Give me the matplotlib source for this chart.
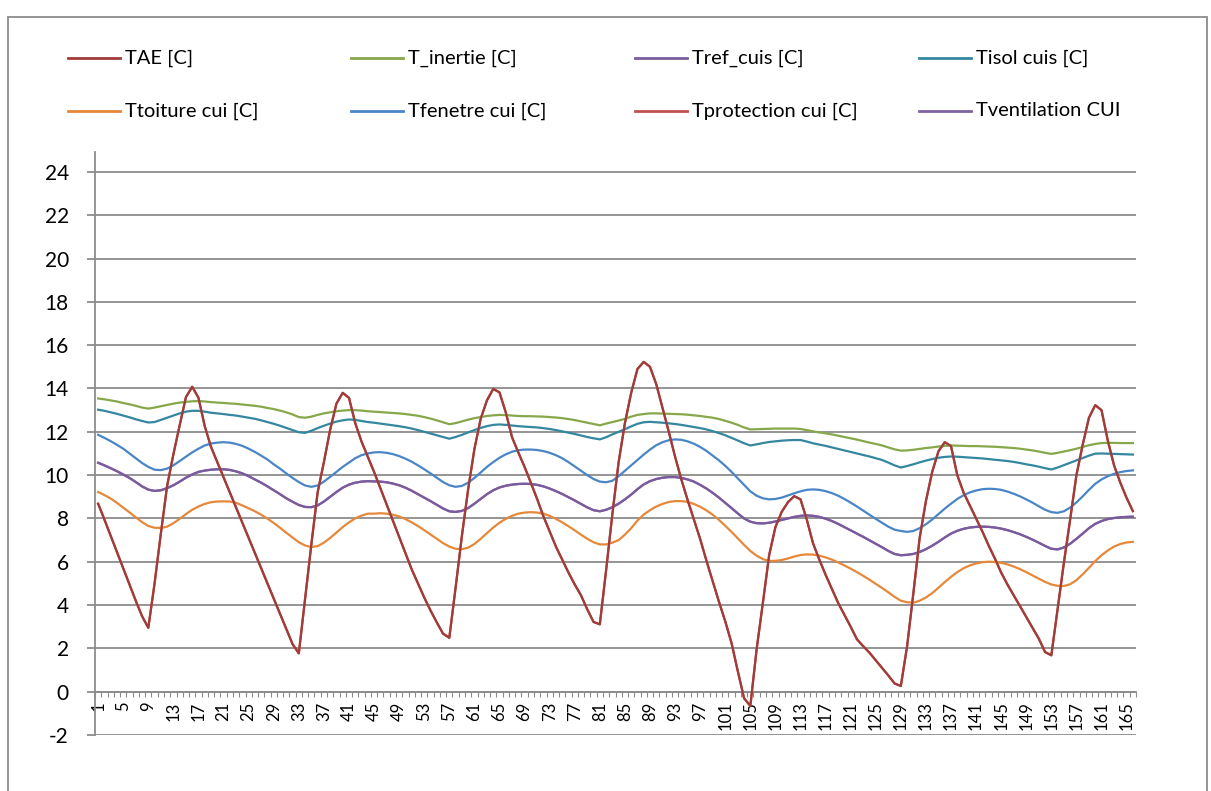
import matplotlib
matplotlib.use("Agg")
import matplotlib.pyplot as plt
from matplotlib.lines import Line2D
from matplotlib.patches import Rectangle
import numpy as np

# hourly temperatures, 166 points
hours = list(range(1, 167))

tae = [
    8.68, 7.95, 7.2, 6.45, 5.7, 4.95, 4.2, 3.49, 2.95, 5.0,
    7.3, 9.5, 10.96, 12.3, 13.6, 14.08, 13.57, 12.26, 11.3, 10.6,
    9.9, 9.2, 8.5, 7.8, 7.1, 6.4, 5.7, 5.0, 4.3, 3.6,
    2.9, 2.2, 1.77, 4.3, 6.8, 9.2, 10.6, 12.1, 13.3, 13.8,
    13.57, 12.4, 11.55, 10.85, 10.15, 9.4, 8.65, 7.9, 7.15, 6.4,
    5.65, 5.0, 4.35, 3.75, 3.2, 2.68, 2.49, 4.8, 7.18, 9.34,
    11.2, 12.6, 13.45, 13.98, 13.82, 12.9, 11.75, 11.05, 10.38, 9.65,
    8.9, 8.1, 7.4, 6.7, 6.1, 5.5, 4.95, 4.45, 3.8, 3.22,
    3.11, 5.6, 8.2, 10.6, 12.4, 13.8, 14.9, 15.23, 15.0, 14.2,
    13.1, 12.0, 10.85, 9.8, 8.85, 7.95, 7.05, 6.05, 5.1, 4.15,
    3.25, 2.25, 0.95, -0.3, -0.66, 1.95, 4.1, 6.3, 7.6, 8.3,
    8.75, 9.03, 8.88, 7.95, 6.85, 6.1, 5.4, 4.75, 4.1, 3.55,
    3.0, 2.42, 2.1, 1.8, 1.45, 1.1, 0.75, 0.38, 0.26, 2.1,
    4.55, 7.1, 8.8, 10.15, 11.1, 11.52, 11.34, 10.0, 9.2, 8.6,
    8.0, 7.4, 6.75, 6.15, 5.5, 4.95, 4.45, 3.95, 3.45, 2.95,
    2.45, 1.83, 1.68, 3.8, 5.95, 7.95, 10.0, 11.4, 12.65, 13.23,
    13.0, 11.6, 10.45, 9.65, 8.95, 8.34]

t_inertie = [
    13.54, 13.5, 13.45, 13.4, 13.33, 13.27, 13.2, 13.12, 13.07, 13.12,
    13.18, 13.24, 13.3, 13.35, 13.38, 13.41, 13.42, 13.4, 13.37, 13.35,
    13.33, 13.31, 13.29, 13.26, 13.23, 13.2, 13.16, 13.1, 13.05, 12.98,
    12.9, 12.8, 12.68, 12.65, 12.7, 12.78, 12.85, 12.9, 12.95, 12.98,
    13.0, 13.0, 12.98, 12.95, 12.93, 12.91, 12.89, 12.87, 12.85, 12.82,
    12.78, 12.74, 12.68, 12.61, 12.53, 12.44, 12.35, 12.4, 12.48, 12.56,
    12.63, 12.68, 12.73, 12.76, 12.78, 12.77, 12.75, 12.73, 12.72, 12.72,
    12.71, 12.7, 12.68, 12.66, 12.63, 12.59, 12.54, 12.48, 12.42, 12.36,
    12.3, 12.38, 12.45, 12.52, 12.6, 12.7, 12.78, 12.82, 12.85, 12.85,
    12.84, 12.83, 12.82, 12.81, 12.79, 12.76, 12.73, 12.69, 12.65, 12.59,
    12.51, 12.42, 12.32, 12.2, 12.11, 12.12, 12.13, 12.14, 12.15, 12.15,
    12.15, 12.15, 12.13, 12.08, 12.02, 11.97, 11.93, 11.88, 11.82, 11.76,
    11.7, 11.64, 11.57, 11.5, 11.44, 11.37, 11.28, 11.19, 11.13, 11.14,
    11.17, 11.21, 11.25, 11.28, 11.32, 11.35, 11.37, 11.36, 11.35, 11.34,
    11.34, 11.33, 11.32, 11.31, 11.29, 11.27, 11.25, 11.22, 11.18, 11.14,
    11.09, 11.03, 10.98, 11.03, 11.09, 11.15, 11.22, 11.3, 11.38, 11.44,
    11.48, 11.49, 11.49, 11.48, 11.48, 11.48]

tref_cuis = [
    10.57, 10.45, 10.32, 10.18, 10.03, 9.87, 9.68, 9.48, 9.33, 9.27,
    9.3, 9.4, 9.53, 9.7, 9.88, 10.03, 10.15, 10.21, 10.25, 10.27,
    10.27, 10.24, 10.17, 10.08, 9.95, 9.8, 9.65, 9.48, 9.3, 9.12,
    8.93, 8.77, 8.62, 8.53, 8.52, 8.6, 8.78, 9.0, 9.22, 9.42,
    9.56, 9.65, 9.7, 9.72, 9.71, 9.7, 9.67, 9.61, 9.53, 9.42,
    9.28, 9.12, 8.96, 8.8, 8.63, 8.46, 8.33, 8.3, 8.35, 8.48,
    8.68, 8.9, 9.12, 9.3, 9.43, 9.51, 9.56, 9.59, 9.6, 9.59,
    9.55, 9.48, 9.38, 9.26, 9.13, 8.98, 8.83, 8.67, 8.51, 8.38,
    8.33, 8.4, 8.52, 8.68, 8.88, 9.1, 9.35, 9.57, 9.72, 9.82,
    9.88, 9.91, 9.91, 9.87, 9.8, 9.7, 9.55, 9.38, 9.18, 8.96,
    8.72, 8.48, 8.23, 8.0, 7.85, 7.78, 7.77, 7.8, 7.86, 7.93,
    8.0, 8.07, 8.12, 8.14, 8.12, 8.07, 7.99, 7.88, 7.75, 7.6,
    7.45, 7.3, 7.15, 6.99, 6.83, 6.67, 6.5, 6.36, 6.3, 6.32,
    6.36, 6.45, 6.58, 6.74, 6.92, 7.12, 7.3, 7.43, 7.52, 7.58,
    7.61, 7.62, 7.61, 7.58, 7.53, 7.46, 7.37, 7.27, 7.15, 7.02,
    6.88, 6.73, 6.6, 6.57, 6.66, 6.83, 7.06, 7.3, 7.55, 7.75,
    7.88, 7.97, 8.02, 8.05, 8.07, 8.08]

tisol = [
    13.02, 12.97, 12.9, 12.83, 12.75, 12.67, 12.58, 12.5, 12.43, 12.45,
    12.55, 12.65, 12.75, 12.85, 12.93, 12.97, 12.97, 12.93, 12.88, 12.85,
    12.82, 12.78, 12.75, 12.7, 12.65, 12.6, 12.53, 12.45, 12.37, 12.28,
    12.18, 12.08, 11.98, 11.95, 12.05, 12.17, 12.28, 12.38, 12.47, 12.53,
    12.57, 12.55, 12.5, 12.45, 12.42, 12.38, 12.34, 12.3, 12.26, 12.21,
    12.15, 12.08, 12.0, 11.92, 11.84, 11.76, 11.68, 11.76, 11.86, 11.97,
    12.08, 12.18, 12.26, 12.32, 12.34, 12.32, 12.29, 12.26, 12.24, 12.22,
    12.2, 12.17, 12.13, 12.08, 12.02, 11.96, 11.9, 11.83, 11.76, 11.7,
    11.65, 11.75, 11.88, 12.0, 12.12, 12.25, 12.37, 12.44, 12.46, 12.44,
    12.42, 12.39, 12.36, 12.32, 12.27, 12.22, 12.17, 12.11, 12.03, 11.94,
    11.84, 11.72, 11.6, 11.47, 11.37, 11.42, 11.48, 11.53, 11.56, 11.59,
    11.61, 11.62, 11.62, 11.55, 11.47, 11.41, 11.35, 11.28, 11.21, 11.14,
    11.07, 11.0, 10.93, 10.86, 10.78, 10.7, 10.58, 10.45, 10.35, 10.42,
    10.5, 10.59, 10.67, 10.74, 10.8, 10.84, 10.86, 10.85, 10.83, 10.81,
    10.79, 10.77, 10.74, 10.71, 10.68, 10.65, 10.61, 10.56, 10.5, 10.45,
    10.39, 10.32, 10.26, 10.35, 10.46, 10.57, 10.68, 10.79, 10.9, 10.99,
    11.0, 10.99, 10.98, 10.97, 10.96, 10.95]

ttoiture = [
    9.22, 9.08, 8.92, 8.72, 8.5, 8.28, 8.05, 7.83, 7.65, 7.57,
    7.56, 7.62, 7.78, 7.98, 8.2, 8.4, 8.55, 8.67, 8.75, 8.78,
    8.79, 8.78, 8.72, 8.6, 8.47, 8.33, 8.17, 7.99, 7.79, 7.57,
    7.34, 7.12, 6.9, 6.75, 6.68, 6.72, 6.88, 7.1, 7.35, 7.6,
    7.82, 8.0, 8.13, 8.22, 8.22, 8.24, 8.22, 8.17, 8.09, 7.97,
    7.82, 7.65, 7.46, 7.26, 7.06, 6.86, 6.7, 6.6, 6.58, 6.65,
    6.82, 7.06, 7.32, 7.58, 7.8, 7.98, 8.12, 8.22, 8.27, 8.29,
    8.27, 8.22, 8.12, 7.98, 7.82, 7.64, 7.45, 7.25, 7.06, 6.9,
    6.8, 6.8, 6.88, 7.0, 7.25, 7.55, 7.9, 8.18, 8.38, 8.55,
    8.67, 8.76, 8.8, 8.8, 8.76, 8.67, 8.54, 8.37, 8.17, 7.93,
    7.66, 7.38, 7.08, 6.78, 6.5, 6.28, 6.12, 6.04, 6.04, 6.08,
    6.15, 6.24, 6.31, 6.34, 6.33, 6.28, 6.2, 6.1, 5.97, 5.83,
    5.68, 5.52, 5.35, 5.17, 4.98, 4.79, 4.59, 4.38, 4.2, 4.13,
    4.11, 4.2, 4.35, 4.55, 4.8, 5.06, 5.3, 5.52, 5.7, 5.83,
    5.92, 5.98, 6.0, 5.99, 5.95, 5.88, 5.78, 5.66, 5.52, 5.37,
    5.22, 5.07, 4.95, 4.89, 4.88, 4.96, 5.15, 5.42, 5.72, 6.03,
    6.3, 6.52, 6.7, 6.82, 6.89, 6.92]

tfenetre = [
    11.86, 11.72, 11.57, 11.4, 11.22, 11.0, 10.78, 10.56, 10.38, 10.25,
    10.23, 10.3, 10.45, 10.65, 10.85, 11.05, 11.22, 11.37, 11.46, 11.5,
    11.52, 11.5, 11.44, 11.35, 11.22, 11.07, 10.9, 10.72, 10.5, 10.3,
    10.08, 9.87, 9.68, 9.52, 9.46, 9.52, 9.7, 9.92, 10.15, 10.38,
    10.58, 10.78, 10.92, 11.0, 11.05, 11.06, 11.03, 10.97, 10.88, 10.76,
    10.62, 10.45, 10.27, 10.08, 9.88, 9.68, 9.53, 9.46, 9.5, 9.65,
    9.87, 10.12, 10.38, 10.6, 10.8, 10.96, 11.08, 11.15, 11.18, 11.18,
    11.16, 11.11, 11.03, 10.92, 10.78, 10.6, 10.4, 10.2, 10.0, 9.82,
    9.7, 9.67, 9.74, 9.95, 10.2, 10.45, 10.7, 10.95, 11.18, 11.38,
    11.52, 11.61, 11.65, 11.63, 11.56, 11.45, 11.3, 11.12, 10.9, 10.68,
    10.43, 10.15, 9.85, 9.55, 9.25, 9.05, 8.93, 8.88, 8.9, 8.96,
    9.06, 9.16, 9.25, 9.32, 9.34, 9.32, 9.26, 9.17, 9.05, 8.9,
    8.73, 8.55, 8.36, 8.17, 7.98, 7.8, 7.62, 7.48, 7.42, 7.38,
    7.42, 7.55, 7.73, 7.95, 8.2, 8.45, 8.68, 8.9, 9.07, 9.2,
    9.29, 9.35, 9.37, 9.36, 9.32, 9.24, 9.14, 9.02, 8.88, 8.73,
    8.56, 8.4, 8.29, 8.26, 8.33, 8.5, 8.74, 9.02, 9.32, 9.6,
    9.8, 9.95, 10.06, 10.14, 10.19, 10.22]

# these two sit under TAE and Tref_cuis in the picture
tprotection = tae
tventilation = tref_cuis

labels = ["TAE [C]", "T_inertie [C]", "Tref_cuis [C]", "Tisol cuis [C]",
          "Ttoiture cui [C]", "Tfenetre cui [C]", "Tprotection cui [C]", "Tventilation CUI"]
colors = ["#A03C3A", "#86A84A", "#7B5B9E", "#34879F",
          "#E6883A", "#4A85C6", "#C0504D", "#8064A2"]
data = [tae, t_inertie, tref_cuis, tisol, ttoiture, tfenetre, tprotection, tventilation]
zorders = [5, 3, 4, 3, 3, 3, 2, 2]

plt.rcParams['font.family'] = ['Lato', 'DejaVu Sans']
plt.rcParams['axes.unicode_minus'] = False

W, H = 1211, 791
fig = plt.figure(figsize=(W / 100, H / 100), dpi=100)
ax = fig.add_axes([95 / W, 56 / H, 1041 / W, 583 / H])

grid_c = "#8C8C8C"
for vals, c, z in zip(data, colors, zorders):
    ax.plot(hours, vals, color=c, lw=1.6, zorder=z, solid_joinstyle='round')

ax.set_xlim(0.5, 166.5)
ax.set_ylim(-2, 24.92)
ax.set_yticks(range(-2, 25, 2))
ax.yaxis.grid(True, color=grid_c, lw=1.3)
ax.set_axisbelow(True)

for s in ['top', 'right']:
    ax.spines[s].set_visible(False)
ax.spines['bottom'].set_position(('data', 0))
ax.spines['bottom'].set_color(grid_c)
ax.spines['left'].set_color(grid_c)
ax.spines['bottom'].set_linewidth(1.3)
ax.spines['left'].set_linewidth(1.3)

ax.set_xticks(hours[::4])
ax.set_xticklabels([str(h) for h in hours[::4]])
ax.set_xticks(np.arange(0.5, 167, 1), minor=True)
ax.tick_params(axis='x', which='major', length=0, labelrotation=90, labelsize=12, pad=7)
ax.tick_params(axis='x', which='minor', length=3.5, color=grid_c, width=0.8)
ax.tick_params(axis='y', length=5.8, color=grid_c, width=1.3, labelsize=15, pad=13)

# chart area border
fig.add_artist(Rectangle((8 / W, -0.05), (1207 - 8) / W, (H - 17) / H + 0.05,
                         transform=fig.transFigure, fill=False, ec=grid_c, lw=1.3))

# legend, 2 rows x 4 columns
cols_x = [68, 351, 635, 919]
rows_y = [58, 111]
for k, (lab, c) in enumerate(zip(labels, colors)):
    x0 = cols_x[k % 4] / W
    y = 1 - rows_y[k // 4] / H
    fig.add_artist(Line2D([x0, x0 + 52 / W], [y, y], color=c, lw=2, transform=fig.transFigure))
    fig.text(x0 + 57 / W, y, lab, va='center', ha='left', fontsize=14.5)

fig.savefig("out.png", dpi=100)
